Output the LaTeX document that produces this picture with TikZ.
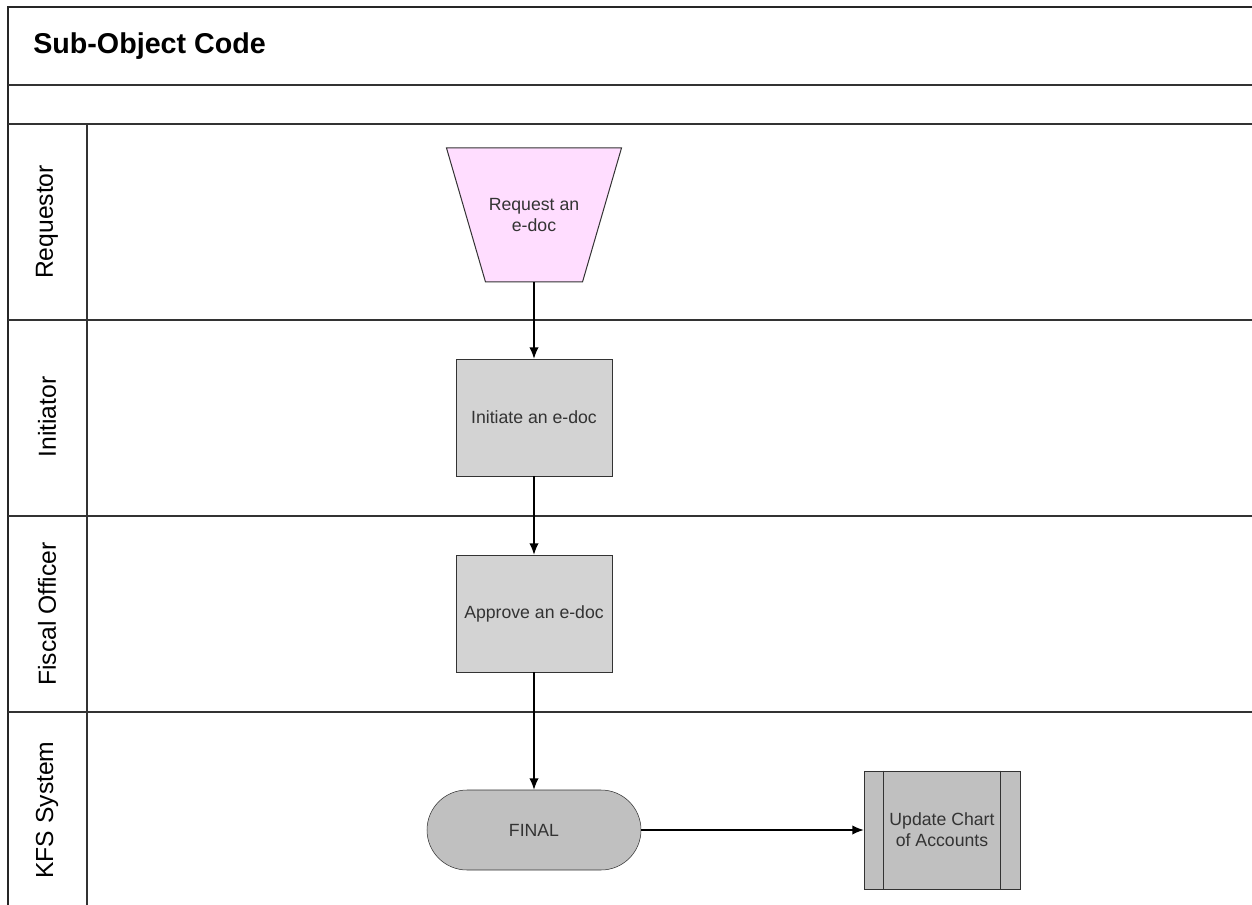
\documentclass[tikz,border=0pt]{standalone}
\usepackage{fontspec}
\setmainfont{Liberation Sans}
\usetikzlibrary{arrows.meta}
\definecolor{pinkfill}{HTML}{FFDDFF}
\definecolor{boxgray}{HTML}{D3D3D3}
\definecolor{darkgray}{HTML}{C0C0C0}
\definecolor{linegray}{HTML}{333333}
\definecolor{txtgray}{HTML}{333333}

\begin{document}
\begin{tikzpicture}[x=0.75pt, y=-0.75pt, >={Latex[length=8.5pt,width=7pt]},
  lane/.style = {draw=linegray, line width=1.1pt},
  lanelabel/.style = {rotate=90, font=\fontsize{18.5}{22}\selectfont},
  task/.style = {draw=linegray, fill=boxgray, minimum width=117pt, minimum height=87.75pt, inner sep=0pt, text=txtgray, font=\fontsize{13.25}{16}\selectfont, align=center},
  request/.style = {minimum width=131.25pt, minimum height=100.5pt, inner sep=0pt, text=txtgray, font=\fontsize{13.25}{16}\selectfont, align=center},
  terminal/.style = {draw=linegray, fill=darkgray, rounded corners=30pt, minimum width=160.5pt, minimum height=60pt, inner sep=0pt, text=txtgray, font=\fontsize{13.25}{16}\selectfont},
  subproc/.style = {draw=linegray, fill=darkgray, minimum width=117pt, minimum height=88.5pt, inner sep=0pt, text=txtgray, font=\fontsize{13.25}{16}\selectfont, align=center}]
\useasboundingbox (0,0) rectangle (1252,905);

% swimlane frame
\draw[draw=black!85, line width=1.5pt] (1252,7) -- (8,7) -- (8,905);
\draw[lane] (8,85) -- (1252,85);
\draw[lane] (8,124) -- (1252,124);
\draw[lane] (8,320) -- (1252,320);
\draw[lane] (8,516) -- (1252,516);
\draw[lane] (8,712) -- (1252,712);
\draw[lane] (87,124) -- (87,905);

\node[anchor=west, inner sep=0pt, font=\fontsize{21.5}{25}\bfseries] (title) at (33,46) {Sub-Object Code};
\node[lanelabel] (l1) at (47,222) {Requestor};
\node[lanelabel] (l2) at (47,417) {Initiator};
\node[lanelabel] (l3) at (47,614) {Fiscal Officer};
\node[lanelabel] (l4) at (47,810) {KFS System};

% steps
\filldraw[draw=linegray, fill=pinkfill, line width=0.75pt] (446.5,148) -- (621.5,148) -- (582.5,282) -- (485.5,282) -- cycle;
\node[request] (req) at (534,215) {Request an\\e-doc};
\node[task] (init) at (534,417.5) {Initiate an e-doc};
\node[task] (appr) at (534,613.5) {Approve an e-doc};
\node[terminal] (final) at (534,830) {FINAL};
\node[subproc] (upd) at (942,830) {Update Chart\\of Accounts};
\draw[draw=linegray, line width=0.75pt] ([xshift=15pt]upd.north west) -- ([xshift=15pt]upd.south west);
\draw[draw=linegray, line width=0.75pt] ([xshift=-15pt]upd.north east) -- ([xshift=-15pt]upd.south east);

\draw[->, line width=1pt] (req.south) -- (init);
\draw[->, line width=1pt] (init) -- (appr);
\draw[->, line width=1pt] (appr) -- (final);
\draw[->, line width=1pt] (final) -- (upd);
\end{tikzpicture}
\end{document}
